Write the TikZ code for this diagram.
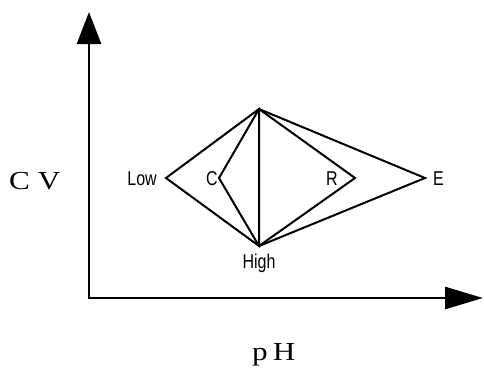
\documentclass[tikz,border=0pt]{standalone}
\usepackage{fontspec}
\newfontfamily\helv[FakeStretch=0.8]{Liberation Sans}
\newfontfamily\axisfont[FakeStretch=1.2]{Liberation Serif}
\usetikzlibrary{arrows.meta}

\begin{document}
\begin{tikzpicture}[x=1pt, y=-1pt,
  axis/.style={line width=2.6pt, line join=miter,
    {Triangle[length=32pt, width=24pt]}-{Triangle[length=38pt, width=22pt]}},
  edge/.style={line width=2pt, line cap=round},
  tag/.style={font=\helv\fontsize{20}{20}\selectfont, inner sep=0pt},
  title/.style={font=\axisfont\fontsize{26}{26}\selectfont, inner sep=0pt}]

  \useasboundingbox (0,0) rectangle (484,376);

  % --- Axes ---
  \coordinate (ytop) at (89,12);
  \coordinate (origin) at (89,298);
  \coordinate (xend) at (483,298);
  \draw[axis] (ytop) -- (origin) -- (xend);
  \node[title, anchor=base west] (cv) at (9,189) {C\hspace{0.3em}V};
  \node[title, anchor=base west] (ph) at (252,360) {p\hspace{0.2em}H};

  % --- Vertices ---
  \coordinate (top) at (259,109);
  \coordinate (high) at (259,246);
  \coordinate (low) at (166,178);
  \coordinate (c) at (219,178);
  \coordinate (r) at (355,178);
  \coordinate (e) at (425,178);

  % --- Quadrilaterals ---
  \draw[edge] (low) -- (top) -- (high) -- cycle;
  \draw[edge] (c) -- (top);
  \draw[edge] (c) -- (high);
  \draw[edge] (top) -- (r) -- (high);
  \draw[edge] (top) -- (e) -- (high);

  % --- Labels ---
  \node[tag, anchor=base east] (lowtag) at (157,185) {Low};
  \node[tag, anchor=base east] (ctag) at (218,185) {C};
  \node[tag, anchor=base] (rtag) at (332,185) {R};
  \node[tag, anchor=base west] (etag) at (433,185) {E};
  \node[tag, anchor=base] (hightag) at (259,268) {High};

\end{tikzpicture}
\end{document}
